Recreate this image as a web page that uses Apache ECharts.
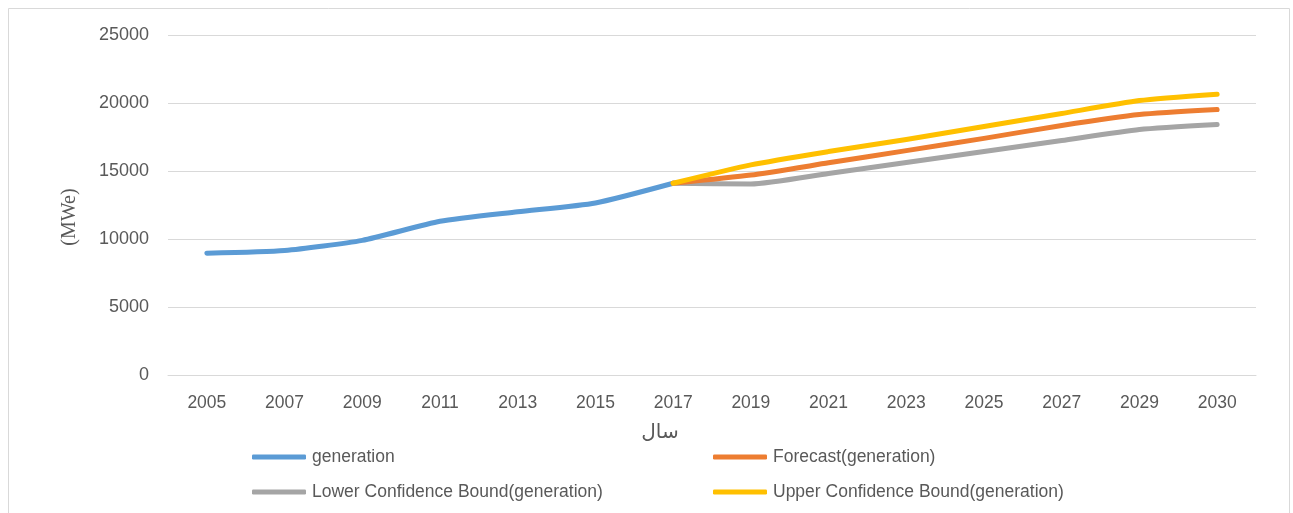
<!DOCTYPE html>
<html>
<head>
<meta charset="utf-8">
<script src="https://cdn.jsdelivr.net/npm/echarts@6/dist/echarts.min.js"></script>
<style>html,body{margin:0;padding:0;background:#fff}#c{width:1293px;height:513px}</style>
</head>
<body>
<div id="c"></div>
<script>
var categories = ['2005','2007','2009','2011','2013','2015','2017','2019','2021','2023','2025','2027','2029','2030'];
var generation = [8950, 9150, 9900, 11300, 12000, 12650, 14100, null, null, null, null, null, null, null];
var forecast = [null, null, null, null, null, null, 14100, 14700, 15600, 16500, 17400, 18350, 19150, 19520];
var lowerBound = [null, null, null, null, null, null, 14100, 14050, 14820, 15630, 16430, 17240, 18050, 18420];
var upperBound = [null, null, null, null, null, null, 14100, 15450, 16430, 17320, 18270, 19230, 20180, 20650];
var yTicks = [0, 5000, 10000, 15000, 20000, 25000];

var font = "'Liberation Sans', Arial, sans-serif";
var chart = echarts.init(document.getElementById('c'));
function mkLegend(name, left, top) {
  return {
    data: [name], left: left, top: top, icon: 'roundRect', itemWidth: 54, itemHeight: 5,
    itemGap: 0, padding: 0,
    textStyle: { fontFamily: font, fontSize: 17.5, color: '#595959', padding: [0, 0, 0, 1] }
  };
}
chart.setOption({
  animation: false,
  backgroundColor: '#fff',
  graphic: [{ type: 'rect', shape: { x: 8.5, y: 8.5, width: 1281, height: 520 }, style: { fill: 'none', stroke: '#d9d9d9', lineWidth: 1 } }],
  legend: [
    mkLegend('generation', 252, 448),
    mkLegend('Forecast(generation)', 713, 448),
    mkLegend('Lower Confidence Bound(generation)', 252, 483),
    mkLegend('Upper Confidence Bound(generation)', 713, 483)
  ],
  grid: { left: 168, right: 37, top: 35, bottom: 138 },
  xAxis: {
    type: 'category', data: categories, boundaryGap: true,
    name: 'سال', nameLocation: 'middle', nameGap: 48,
    nameTextStyle: { fontFamily: "'DejaVu Sans', sans-serif", fontSize: 20, color: '#595959', padding: [0, 104, 0, 0] },
    axisLine: { show: true, lineStyle: { color: '#d9d9d9' } },
    axisTick: { show: false },
    axisLabel: { margin: 19, fontFamily: font, fontSize: 17.5, color: '#595959' }
  },
  yAxis: {
    type: 'value', min: yTicks[0], max: yTicks[yTicks.length - 1], interval: 5000,
    name: '(MWe)', nameLocation: 'middle', nameGap: 88, nameRotate: 90,
    nameTextStyle: { fontFamily: "'Liberation Serif', serif", fontSize: 20, color: '#595959', padding: [0, 0, 0, -24] },
    axisLine: { show: false }, axisTick: { show: false },
    axisLabel: { margin: 19, fontFamily: font, fontSize: 18, color: '#595959', formatter: function (v) { return String(v); } },
    splitLine: { lineStyle: { color: '#d9d9d9', width: 1 } }
  },
  series: [
    { name: 'Lower Confidence Bound(generation)', type: 'line', data: lowerBound, showSymbol: false, smooth: 0.2,
      lineStyle: { color: '#A5A5A5', width: 5, cap: 'round', join: 'round' }, itemStyle: { color: '#A5A5A5' }, z: 2 },
    { name: 'Forecast(generation)', type: 'line', data: forecast, showSymbol: false, smooth: 0.2,
      lineStyle: { color: '#ED7D31', width: 5, cap: 'round', join: 'round' }, itemStyle: { color: '#ED7D31' }, z: 3 },
    { name: 'Upper Confidence Bound(generation)', type: 'line', data: upperBound, showSymbol: false, smooth: 0.2,
      lineStyle: { color: '#FFC000', width: 5, cap: 'round', join: 'round' }, itemStyle: { color: '#FFC000' }, z: 4 },
    { name: 'generation', type: 'line', data: generation, showSymbol: false, smooth: 0.2,
      lineStyle: { color: '#5B9BD5', width: 5, cap: 'round', join: 'round' }, itemStyle: { color: '#5B9BD5' }, z: 1 }
  ]
});
</script>
</body>
</html>
